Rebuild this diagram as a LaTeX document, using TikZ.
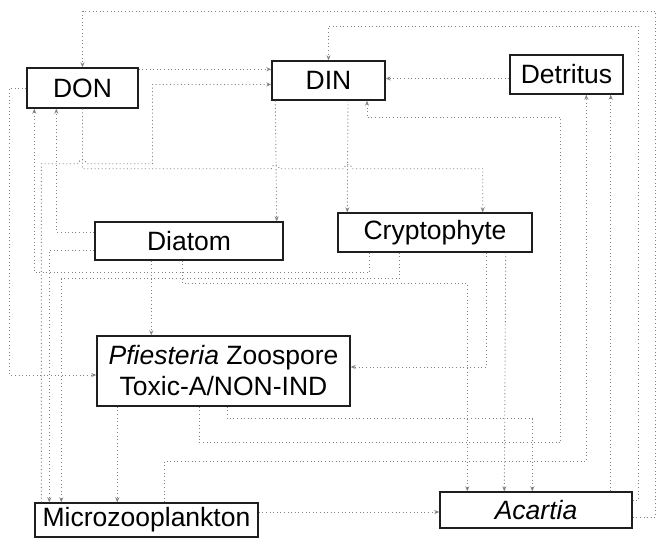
\documentclass[tikz,border=0pt]{standalone}
\usepackage{fontspec}
\setmainfont{Liberation Sans}
\usetikzlibrary{arrows.meta,calc}
\definecolor{FlowGray}{RGB}{130,130,130}
\definecolor{BoxInk}{RGB}{30,30,30}

\begin{document}
\begin{tikzpicture}[x=1pt,y=-1pt,
    pool/.style={draw=BoxInk, line width=1.4pt, inner sep=0pt, font=\fontsize{26.5}{31}\selectfont},
    flow/.style={FlowGray, line width=0.9pt, dash pattern=on 1pt off 2.6pt, ->, >={Stealth[length=5pt,width=4pt]}}]
  \useasboundingbox[fill=white] (0,0) rectangle (661,538);

  % Nutrient pools
  \node[pool, minimum width=111pt, minimum height=40pt] (don) at (82.5,88) {DON};
  \node[pool, minimum width=113pt, minimum height=39pt] (din) at (328.5,80.5) {DIN};
  \node[pool, minimum width=113pt, minimum height=39pt] (detritus) at (566.5,74.5) {Detritus};

  % Phytoplankton
  \node[pool, minimum width=188pt, minimum height=38pt] (diatom) at (189,241) {Diatom};
  \node[pool, minimum width=194pt, minimum height=39pt] (crypto) at (435,232.5) {Cryptophyte};

  % Grazers
  \node[pool, minimum width=253pt, minimum height=70pt, align=center] (pfies) at (223.5,371)
    {{\itshape Pfiesteria} Zoospore\\Toxic-A/NON-IND};
  \node[pool, minimum width=223pt, minimum height=34pt] (microzoo) at (146.5,520) {Microzooplankton};
  \node[pool, minimum width=192pt, minimum height=36pt] (acartia) at (536,510) {\itshape Acartia};

  % Excretion back to the nutrient pools
  \draw[flow] ($(acartia.east)+(0,7)$) -- ++(23,0) |- ($(don.north)+(0,-56)$) -- (don.north);
  \draw[flow] ($(acartia.east)+(0,-10)$) -- ++(6,0) |- ($(din.north)+(0,-34)$) -- (din.north);
  \draw[flow] ($(don.north east)+(0,2)$) -- ($(din.north west)+(0,9)$);
  \draw[flow] ($(microzoo.north west)+(7,0)$) |- ($(don.south)+(-4,55)$)
    arc[start angle=180, end angle=0, radius=4pt] -- ($(don.south)+(70,55)$) |- ($(din.west)+(0,4)$);
  \draw[flow] ($(detritus.west)+(0,4)$) -- ($(din.east)+(0,-2)$);
  \draw[flow] ($(pfies.south west)+(103,0)$) |- ($(crypto.south east)+(28,190)$)
    |- ($(din.south)+(38.5,17)$) -- ($(din.south)+(38.5,0)$);

  % Uptake by phytoplankton
  \draw[flow] ($(din.south west)+(4,0)$) -- ($(diatom.north east)+(-7,0)$);
  \draw[flow] ($(din.south)+(19.5,0)$) -- ($(crypto.north west)+(10,0)$);
  \draw[flow] (don.south) -- ++(0,60) -- ($(din.south west)+(0,68)$)
    arc[start angle=180, end angle=0, radius=4pt] -- ($(din.south)+(15.5,68)$)
    arc[start angle=180, end angle=0, radius=4pt] -| ($(crypto.north east)+(-50,0)$);

  % Exudation to DON
  \draw[flow] ($(diatom.west)+(0,-9)$) -| ($(don.south west)+(30,0)$);
  \draw[flow] ($(crypto.south west)+(32,0)$) |- ($(don.south west)+(8,164)$) -- ($(don.south west)+(8,0)$);
  \draw[flow] (don.west) -- ++(-17,0) |- ($(pfies.west)+(0,4)$);

  % Grazing
  \draw[flow] ($(diatom.south west)+(57,0)$) -- ($(pfies.north west)+(55,0)$);
  \draw[flow] ($(diatom.west)+(0,9)$) -| ($(microzoo.north west)+(15,0)$);
  \draw[flow] ($(diatom.south west)+(88,0)$) -- ++(0,23) -| ($(acartia.north west)+(28,0)$);
  \draw[flow] ($(crypto.south west)+(62,0)$) -- ++(0,26) -| ($(microzoo.north west)+(27,0)$);
  \draw[flow] ($(crypto.south east)+(-27,0)$) -- ($(acartia.north west)+(65,0)$);
  \draw[flow] ($(crypto.south east)+(-46,0)$) |- ($(pfies.east)+(0,-4)$);
  \draw[flow] ($(pfies.south west)+(21,0)$) -- ($(microzoo.north west)+(83,0)$);
  \draw[flow] ($(pfies.south west)+(131,0)$) -- ++(0,12) -| ($(acartia.north west)+(93,0)$);
  \draw[flow] ($(microzoo.east)+(0,-8)$) -- ($(acartia.west)+(0,2)$);

  % Losses to detritus
  \draw[flow] ($(microzoo.north west)+(130,0)$) -- ++(0,-41) -| ($(detritus.south west)+(77,0)$);
  \draw[flow] ($(acartia.north east)+(-22,0)$) -- ($(detritus.south east)+(-13,0)$);
\end{tikzpicture}
\end{document}
